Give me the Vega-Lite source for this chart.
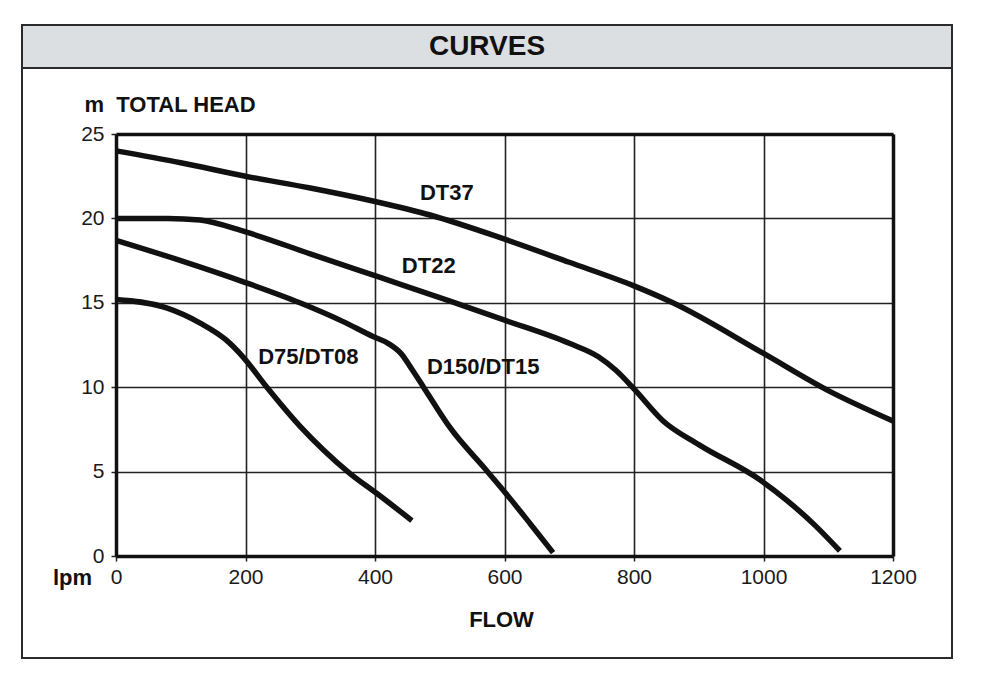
{
  "$schema": "https://vega.github.io/schema/vega-lite/v6.json",
  "padding": {"left": 21, "top": 24, "right": 0, "bottom": 0},
  "background": "white",
  "config": {"font": "Liberation Sans", "view": {"stroke": null}},
  "spacing": 0,
  "bounds": "flush",
  "datasets": {
    "curves": [
      {"model": "DT37", "flow": 0, "head": 24.0},
      {"model": "DT37", "flow": 100, "head": 23.3},
      {"model": "DT37", "flow": 200, "head": 22.5},
      {"model": "DT37", "flow": 300, "head": 21.8},
      {"model": "DT37", "flow": 400, "head": 21.0},
      {"model": "DT37", "flow": 485, "head": 20.2},
      {"model": "DT37", "flow": 598, "head": 18.8},
      {"model": "DT37", "flow": 700, "head": 17.4},
      {"model": "DT37", "flow": 800, "head": 16.0},
      {"model": "DT37", "flow": 860, "head": 15.0},
      {"model": "DT37", "flow": 1000, "head": 12.0},
      {"model": "DT37", "flow": 1100, "head": 9.8},
      {"model": "DT37", "flow": 1200, "head": 8.0},
      {"model": "DT22", "flow": 0, "head": 20.0},
      {"model": "DT22", "flow": 80, "head": 20.0},
      {"model": "DT22", "flow": 130, "head": 19.9},
      {"model": "DT22", "flow": 200, "head": 19.2},
      {"model": "DT22", "flow": 300, "head": 17.9},
      {"model": "DT22", "flow": 408, "head": 16.5},
      {"model": "DT22", "flow": 516, "head": 15.1},
      {"model": "DT22", "flow": 598, "head": 14.0},
      {"model": "DT22", "flow": 700, "head": 12.6},
      {"model": "DT22", "flow": 745, "head": 11.8},
      {"model": "DT22", "flow": 772, "head": 11.0},
      {"model": "DT22", "flow": 800, "head": 9.9},
      {"model": "DT22", "flow": 845, "head": 8.0},
      {"model": "DT22", "flow": 900, "head": 6.6},
      {"model": "DT22", "flow": 995, "head": 4.5},
      {"model": "DT22", "flow": 1036, "head": 3.3},
      {"model": "DT22", "flow": 1080, "head": 1.8},
      {"model": "DT22", "flow": 1118, "head": 0.3},
      {"model": "D150/DT15", "flow": 0, "head": 18.7},
      {"model": "D150/DT15", "flow": 100, "head": 17.5},
      {"model": "D150/DT15", "flow": 200, "head": 16.2},
      {"model": "D150/DT15", "flow": 284, "head": 15.0},
      {"model": "D150/DT15", "flow": 350, "head": 13.9},
      {"model": "D150/DT15", "flow": 397, "head": 13.0},
      {"model": "D150/DT15", "flow": 420, "head": 12.6},
      {"model": "D150/DT15", "flow": 440, "head": 12.0},
      {"model": "D150/DT15", "flow": 458, "head": 11.0},
      {"model": "D150/DT15", "flow": 475, "head": 10.0},
      {"model": "D150/DT15", "flow": 495, "head": 8.8},
      {"model": "D150/DT15", "flow": 516, "head": 7.6},
      {"model": "D150/DT15", "flow": 567, "head": 5.3},
      {"model": "D150/DT15", "flow": 598, "head": 3.9},
      {"model": "D150/DT15", "flow": 640, "head": 1.9},
      {"model": "D150/DT15", "flow": 675, "head": 0.2},
      {"model": "D75/DT08", "flow": 0, "head": 15.2},
      {"model": "D75/DT08", "flow": 78, "head": 14.7},
      {"model": "D75/DT08", "flow": 130, "head": 13.8},
      {"model": "D75/DT08", "flow": 170, "head": 12.8},
      {"model": "D75/DT08", "flow": 196, "head": 11.8},
      {"model": "D75/DT08", "flow": 233, "head": 10.0},
      {"model": "D75/DT08", "flow": 284, "head": 7.7},
      {"model": "D75/DT08", "flow": 320, "head": 6.3},
      {"model": "D75/DT08", "flow": 361, "head": 4.9},
      {"model": "D75/DT08", "flow": 403, "head": 3.7},
      {"model": "D75/DT08", "flow": 457, "head": 2.1}
    ],
    "labels": [
      {"label": "DT37", "flow": 511, "head": 21.5},
      {"label": "DT22", "flow": 483, "head": 17.2},
      {"label": "D75/DT08", "flow": 297, "head": 11.8},
      {"label": "D150/DT15", "flow": 567, "head": 11.2}
    ]
  },
  "vconcat": [
    {
      "width": 930,
      "height": 43,
      "view": {"fill": "#dcdfe1", "stroke": "#2b2b2b", "strokeWidth": 2},
      "data": {"values": [{"title": "CURVES"}]},
      "mark": {"type": "text", "font": "Liberation Sans", "fontWeight": "bold", "fontSize": 28, "color": "#111111"},
      "encoding": {"text": {"field": "title"}}
    },
    {
      "width": 930,
      "height": 590,
      "view": {"fill": "white", "stroke": "#2b2b2b", "strokeWidth": 2},
      "resolve": {"axis": {"x": "independent", "y": "independent"}},
      "layer": [
        {
          "data": {"name": "curves"},
          "mark": {"type": "line", "color": "#111111", "strokeWidth": 5.5, "interpolate": "monotone", "strokeCap": "butt"},
          "encoding": {
            "x": {
              "field": "flow", "type": "quantitative",
              "scale": {"domain": [0, 1200], "range": [94, 871], "nice": false, "zero": false},
              "axis": {
                "orient": "bottom", "offset": -102,
                "values": [0, 200, 400, 600, 800, 1000, 1200], "format": "d",
                "grid": false,
                "domain": true, "domainColor": "#111111", "domainWidth": 3.5,
                "ticks": true, "tickSize": 5, "tickColor": "#222222", "tickWidth": 1.5,
                "labelFontSize": 21, "labelColor": "#1a1a1a", "labelPadding": 5,
                "labelFlush": false, "labelOverlap": false,
                "title": "FLOW", "titleFontSize": 22, "titleFontWeight": "bold", "titleColor": "#111111",
                "titleX": 479, "titleY": 63, "titleAlign": "center", "titleBaseline": "middle"
              }
            },
            "y": {
              "field": "head", "type": "quantitative",
              "scale": {"domain": [0, 25], "range": [488, 66], "nice": false, "zero": false},
              "axis": {
                "orient": "left", "offset": -94,
                "values": [0, 5, 10, 15, 20, 25],
                "grid": true, "gridColor": "#222222", "gridWidth": 1.6, "gridOpacity": 1,
                "domain": true, "domainColor": "#111111", "domainWidth": 3.5,
                "ticks": true, "tickSize": 5, "tickColor": "#222222", "tickWidth": 1.5,
                "labelFontSize": 21, "labelColor": "#1a1a1a", "labelPadding": 7,
                "labelFlush": false, "labelOverlap": false,
                "title": "m\u00a0\u00a0TOTAL HEAD", "titleFontSize": 22, "titleFontWeight": "bold", "titleColor": "#111111",
                "titleAngle": 0, "titleX": -32, "titleY": 36, "titleAlign": "left", "titleBaseline": "middle"
              }
            },
            "detail": {"field": "model"}
          }
        },
        {
          "data": {"name": "labels"},
          "mark": {"type": "text", "font": "Liberation Sans", "fontWeight": "bold", "fontSize": 22, "color": "#111111"},
          "encoding": {
            "x": {
              "field": "flow", "type": "quantitative",
              "axis": {
                "orient": "top", "offset": -66, "labels": false, "ticks": false,
                "values": [0, 200, 400, 600, 800, 1000, 1200],
                "grid": true, "gridColor": "#222222", "gridWidth": 1.6, "gridOpacity": 1,
                "domain": true, "domainColor": "#111111", "domainWidth": 3.5,
                "title": "lpm", "titleFontSize": 22, "titleFontWeight": "bold", "titleColor": "#111111",
                "titleX": 50, "titleY": 443, "titleAlign": "center", "titleBaseline": "middle", "titleAngle": 0
              }
            },
            "y": {
              "field": "head", "type": "quantitative",
              "axis": {
                "orient": "right", "offset": -59, "grid": false, "labels": false, "ticks": false,
                "domain": true, "domainColor": "#111111", "domainWidth": 3.5, "title": null
              }
            },
            "text": {"field": "label"}
          }
        }
      ]
    }
  ]
}
